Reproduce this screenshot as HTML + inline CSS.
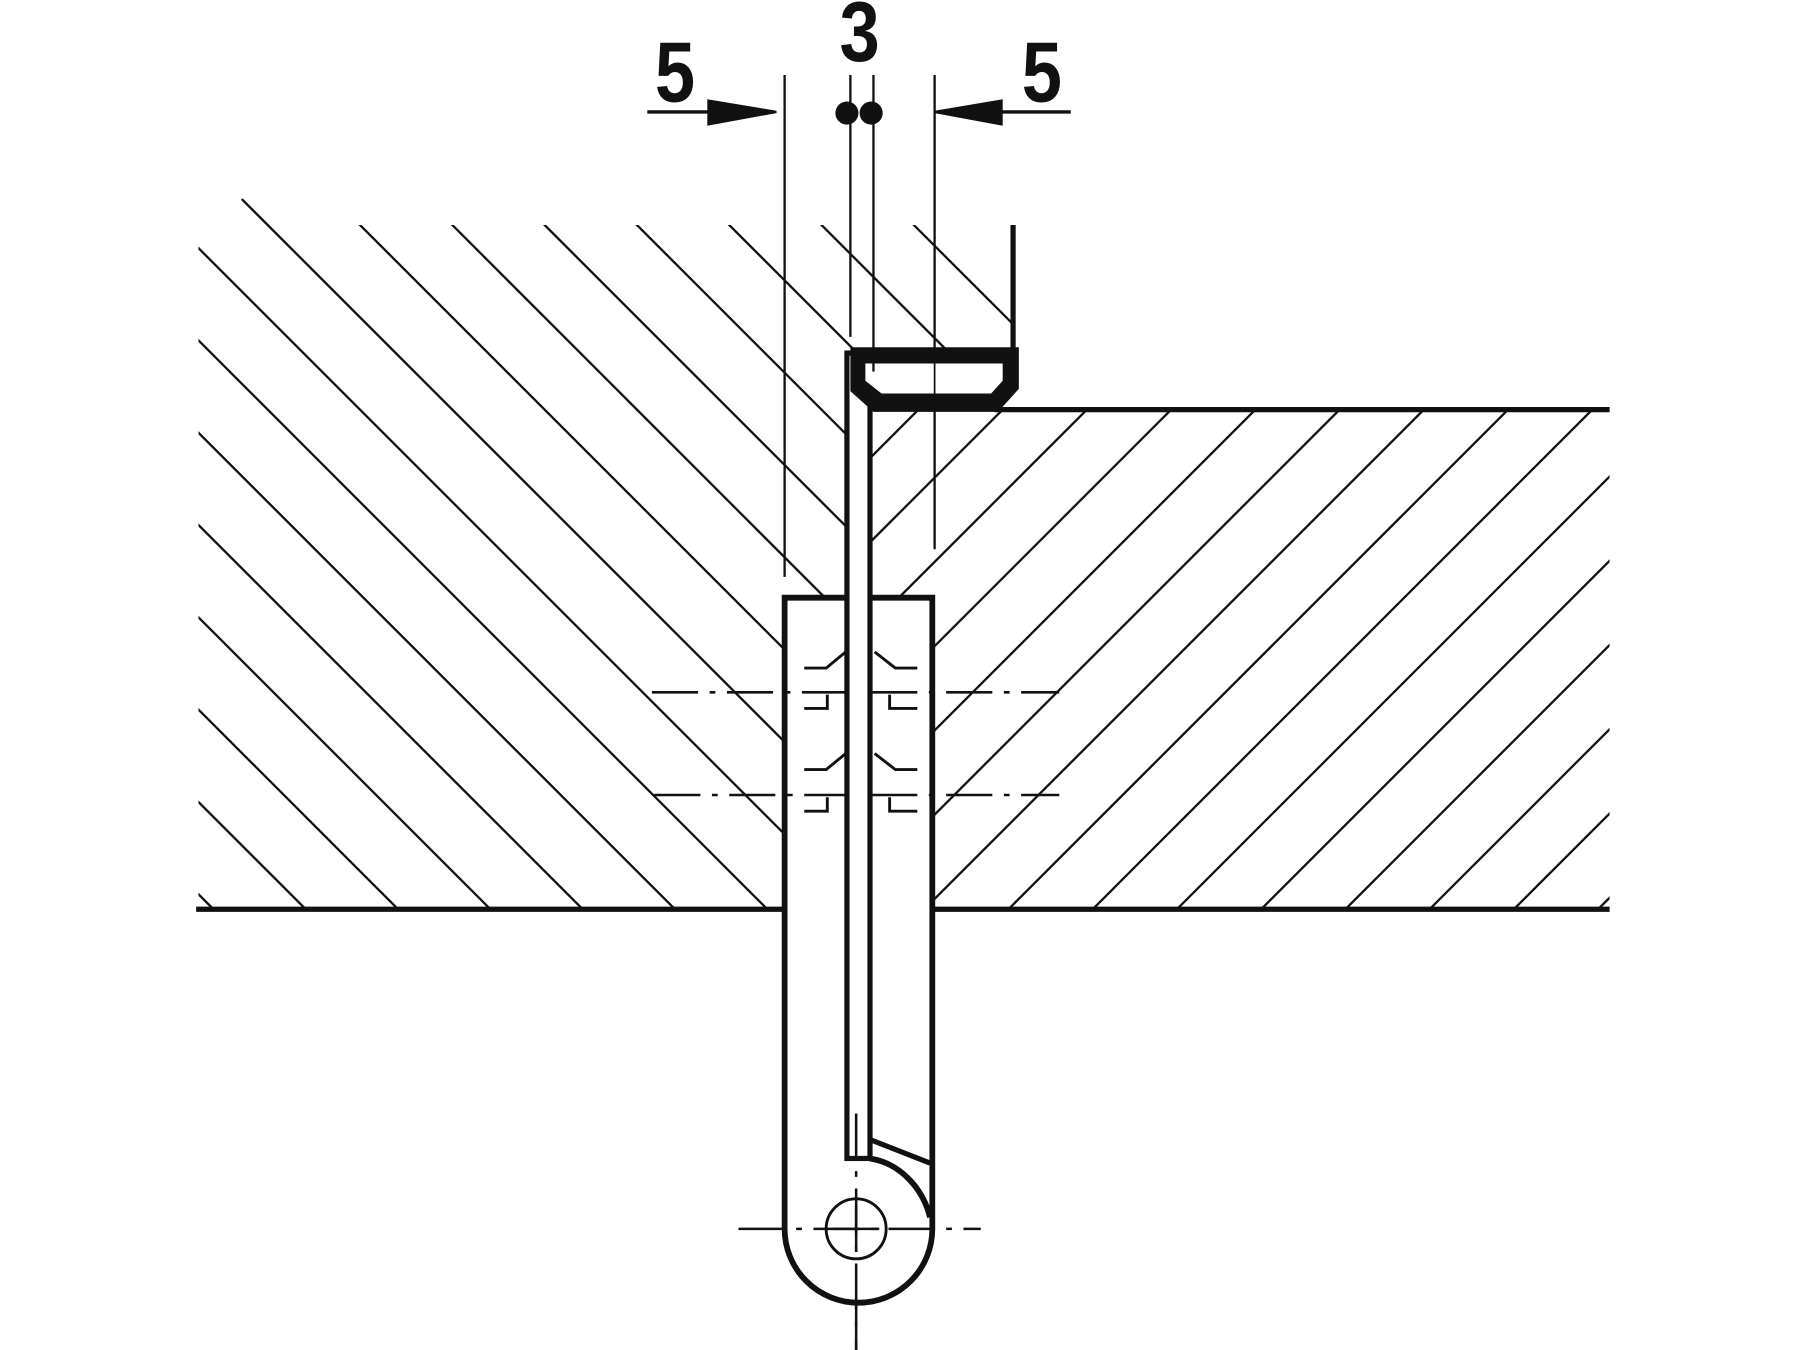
<!DOCTYPE html>
<html><head><meta charset="utf-8"><style>html,body{margin:0;padding:0;background:#fff}svg{display:block}</style></head>
<body>
<svg width="1800" height="1350" viewBox="0 0 1560 1170" xmlns="http://www.w3.org/2000/svg">
<defs>
<clipPath id="cl"><path d="M172,210 L210,172 L260,195 L878,195 L878,302 L734,302 L734,516 L678,516 L678,788 L172,788 Z"/></clipPath>
<clipPath id="cr"><path d="M754,355 L1395,355 L1395,788 L806,788 L806,516 L754,516 Z"/></clipPath>
</defs>
<rect width="1560" height="1170" fill="#fff"/>
<g clip-path="url(#cl)" stroke="#111" stroke-width="2">
<line x1="-603" y1="0" x2="567" y2="1170"/><line x1="-523" y1="0" x2="647" y2="1170"/>
<line x1="-443" y1="0" x2="727" y2="1170"/><line x1="-363" y1="0" x2="807" y2="1170"/>
<line x1="-283" y1="0" x2="887" y2="1170"/><line x1="-203" y1="0" x2="967" y2="1170"/>
<line x1="-123" y1="0" x2="1047" y2="1170"/><line x1="-43" y1="0" x2="1127" y2="1170"/>
<line x1="37" y1="0" x2="1207" y2="1170"/><line x1="117" y1="0" x2="1287" y2="1170"/>
<line x1="197" y1="0" x2="1367" y2="1170"/><line x1="277" y1="0" x2="1447" y2="1170"/>
<line x1="357" y1="0" x2="1527" y2="1170"/><line x1="437" y1="0" x2="1607" y2="1170"/>
<line x1="517" y1="0" x2="1687" y2="1170"/><line x1="597" y1="0" x2="1767" y2="1170"/>
</g>
<g clip-path="url(#cr)" stroke="#111" stroke-width="2">
<line x1="2173" y1="0" x2="1003" y2="1170"/><line x1="2100" y1="0" x2="930" y2="1170"/>
<line x1="2027" y1="0" x2="857" y2="1170"/><line x1="1954" y1="0" x2="784" y2="1170"/>
<line x1="1881" y1="0" x2="711" y2="1170"/><line x1="1808" y1="0" x2="638" y2="1170"/>
<line x1="1735" y1="0" x2="565" y2="1170"/><line x1="1662" y1="0" x2="492" y2="1170"/>
<line x1="1589" y1="0" x2="419" y2="1170"/><line x1="1516" y1="0" x2="346" y2="1170"/>
<line x1="1443" y1="0" x2="273" y2="1170"/><line x1="1370" y1="0" x2="200" y2="1170"/>
<line x1="1297" y1="0" x2="127" y2="1170"/><line x1="1224" y1="0" x2="54" y2="1170"/>
<line x1="1151" y1="0" x2="-19" y2="1170"/>
</g>
<g stroke="#111" stroke-width="4.5">
<line x1="862" y1="355" x2="1395" y2="355"/>
<line x1="170" y1="788" x2="680" y2="788"/>
<line x1="806" y1="788" x2="1395" y2="788"/>
<line x1="878" y1="195" x2="878" y2="304"/>
</g>
<line x1="680" y1="788" x2="806" y2="788" stroke="#999" stroke-width="1"/>
<g stroke="#111" stroke-width="2">
<line x1="680" y1="65" x2="680" y2="500"/>
<line x1="737" y1="65" x2="737" y2="292"/>
<line x1="757" y1="65" x2="757" y2="320"/>
<line x1="810" y1="65" x2="810" y2="476"/>
<line x1="561" y1="97" x2="615" y2="97" stroke-width="3"/>
<line x1="868" y1="97" x2="928" y2="97" stroke-width="3"/>
</g>
<polygon points="613,86 673,96 673,98 613,109" fill="#111"/>
<polygon points="869,86 810,96 810,98 869,109" fill="#111"/>
<circle cx="734" cy="98" r="10" fill="#111"/>
<circle cx="755" cy="98" r="10" fill="#111"/>
<g font-family="Liberation Sans, sans-serif" font-weight="bold" font-size="66" fill="#111" text-anchor="middle">
<text transform="translate(585,88) scale(0.95,1.12)">5</text>
<text transform="translate(745,53) scale(0.95,1.12)">3</text>
<text transform="translate(903,88) scale(0.95,1.12)">5</text>
</g>
<path d="M680,518 H808 V1065 A64,64 0 0 1 680,1065 Z" fill="#fff" stroke="#111" stroke-width="5"/>
<rect x="734" y="306" width="20" height="698" fill="#fff" stroke="#111" stroke-width="4.5"/>
<path d="M754,1004 C780,1008 800,1030 806,1055" fill="none" stroke="#111" stroke-width="5"/>
<line x1="755" y1="988" x2="806" y2="1008" stroke="#111" stroke-width="4.5"/>
<path d="M729,301 H883 V337 L865,357 H757 L737,339 V301 Z" fill="#111"/>
<path d="M744,315 H869 V330 L859,341 H764 L750,330 V315 Z" fill="#fff"/>
<line x1="757" y1="313" x2="757" y2="322" stroke="#111" stroke-width="2"/>
<line x1="810" y1="313" x2="810" y2="342" stroke="#111" stroke-width="1.5"/>
<g stroke="#111" stroke-width="2.5" fill="none">
<path d="M697,579 H716 L733,565"/><path d="M795,579 H776 L758,565"/>
<path d="M717,602 V614 H697"/><path d="M771,602 V614 H795"/>
<path d="M697,667 H716 L733,653"/><path d="M795,667 H776 L758,653"/>
<path d="M717,691 V703 H697"/><path d="M771,691 V703 H795"/>
</g>
<g stroke="#111" stroke-width="2.2" stroke-dasharray="40,10,5,10">
<line x1="565" y1="600" x2="733" y2="600"/>
<line x1="755" y1="600" x2="918" y2="600"/>
<line x1="567" y1="689" x2="733" y2="689"/>
<line x1="755" y1="689" x2="918" y2="689"/>
</g>
<circle cx="742" cy="1065" r="26" fill="none" stroke="#111" stroke-width="2.5"/>
<g stroke="#111" stroke-width="2.2">
<line x1="640" y1="1065" x2="850" y2="1065" stroke-dasharray="40,10,5,10"/>
<line x1="742" y1="965" x2="742" y2="1170" stroke-dasharray="40,10,5,10"/>
<line x1="722" y1="1065" x2="762" y2="1065"/>
<line x1="742" y1="1045" x2="742" y2="1085"/>
<line x1="742" y1="1128" x2="742" y2="1170"/>
</g>
</svg>
</body></html>
